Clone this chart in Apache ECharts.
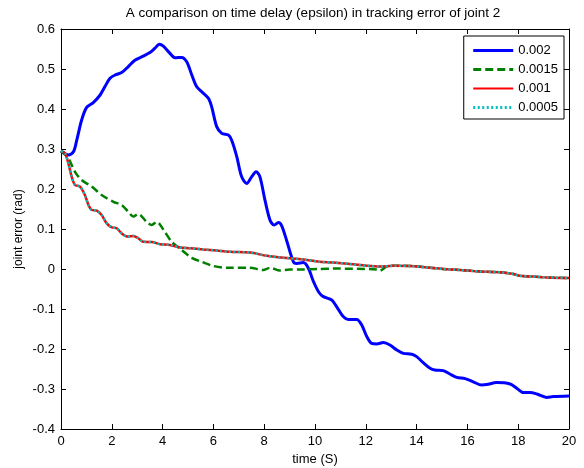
<!DOCTYPE html>
<html><head><meta charset="utf-8">
<script src="https://cdn.jsdelivr.net/npm/echarts@6/dist/echarts.min.js"></script>
<style>html,body{margin:0;padding:0;background:#fff}#c{width:584px;height:468px}</style>
</head><body><div id="c"></div>
<script>
const xTicks = [0,2,4,6,8,10,12,14,16,18,20];
const yTicks = [-0.4,-0.3,-0.2,-0.1,0,0.1,0.2,0.3,0.4,0.5,0.6];
const seriesNames = ['0.002','0.0015','0.001','0.0005'];

const blueX = [0,0.29,0.49,0.62,0.81,1.01,1.27,1.54,1.73,1.93,2.13,2.39,2.65,2.91,3.24,3.5,3.7,3.87,4.03,4.29,4.49,4.75,4.95,5.15,5.34,5.54,5.8,5.93,6.13,6.33,6.59,6.72,6.92,7.11,7.31,7.51,7.68,7.83,8.03,8.23,8.39,8.56,8.69,8.88,9.15,9.28,9.54,9.74,9.93,10.15,10.33,10.66,10.85,11.11,11.31,11.64,11.84,12.04,12.23,12.43,12.69,12.95,13.22,13.48,13.81,14.0,14.26,14.53,14.72,15.05,15.31,15.58,15.91,16.23,16.56,16.76,17.15,17.68,17.94,18.2,18.46,18.73,19.12,19.38,20];
const blueY = [0.295,0.285,0.293,0.322,0.372,0.404,0.416,0.435,0.456,0.477,0.485,0.491,0.506,0.522,0.532,0.541,0.552,0.562,0.557,0.539,0.528,0.529,0.518,0.485,0.456,0.443,0.427,0.406,0.356,0.339,0.335,0.322,0.281,0.231,0.214,0.231,0.243,0.231,0.172,0.122,0.110,0.116,0.108,0.072,0.018,0.014,0.016,0.002,-0.03,-0.058,-0.069,-0.0775,-0.094,-0.119,-0.126,-0.126,-0.14,-0.169,-0.186,-0.1875,-0.184,-0.19,-0.2025,-0.211,-0.213,-0.219,-0.234,-0.248,-0.2525,-0.254,-0.2625,-0.271,-0.274,-0.282,-0.29,-0.289,-0.284,-0.2875,-0.298,-0.309,-0.309,-0.3125,-0.321,-0.319,-0.3175];

const greenX = [0,0.29,0.55,0.81,1.21,1.6,2.06,2.39,2.65,2.85,3.04,3.37,3.57,3.77,4.03,4.36,4.75,5.15,5.54,6.0,6.52,7.44,7.96,8.23,8.62,9.0,9.54,10.17,10.72,12.43,12.56,12.82,13.08,13.74,14.4,15.05,15.71,16.23,16.76,17.28,17.81,18.07,18.6,19.12,20];
const greenY = [0.295,0.277,0.243,0.2225,0.206,0.185,0.168,0.16,0.143,0.131,0.1375,0.118,0.11,0.118,0.0985,0.068,0.0475,0.028,0.018,0.0075,0.003,0.003,-0.0025,0.003,-0.004,-0.001,-0.001,0.0,0.001,-0.001,-0.004,0.006,0.008,0.0075,0.004,0.0,-0.0025,-0.005,-0.007,-0.008,-0.0125,-0.017,-0.019,-0.021,-0.0225];

const redX = [0,0.16,0.29,0.42,0.55,0.75,0.94,1.08,1.21,1.41,1.6,1.8,2.0,2.19,2.39,2.62,2.85,3.04,3.24,3.57,3.9,4.29,4.69,5.08,5.6,6.13,6.65,7.44,8.1,8.75,9.54,10.17,10.72,11.38,12.04,12.56,13.08,13.74,14.4,15.05,15.71,16.23,16.76,17.28,17.81,18.07,18.6,19.12,20];
const redY = [0.295,0.289,0.264,0.231,0.21,0.206,0.185,0.16,0.1475,0.146,0.135,0.114,0.104,0.102,0.089,0.081,0.0825,0.077,0.068,0.0675,0.062,0.06,0.054,0.052,0.049,0.046,0.043,0.041,0.033,0.028,0.024,0.018,0.016,0.0125,0.008,0.006,0.008,0.0075,0.004,0.0,-0.0025,-0.005,-0.007,-0.008,-0.0125,-0.017,-0.019,-0.021,-0.0225];

const cyanX = redX.slice();
const cyanY = redY.slice();

function pairs(xs, ys){ return xs.map((x,i)=>[x, ys[i]]); }

const font = 'Liberation Sans, Arial, Helvetica, sans-serif';
const chart = echarts.init(document.getElementById('c'), null, {renderer:'canvas'});
const axisCommon = {
  axisLine:{show:true, onZero:false, lineStyle:{color:'#000', width:1}},
  axisTick:{show:true, inside:true, length:5, lineStyle:{color:'#000'}},
  splitLine:{show:false}
};
const legendWidths = [3, 3, 2, 3];
chart.setOption({
  animation:false,
  backgroundColor:'#fff',
  title:{text:'A comparison on time delay (epsilon) in tracking error of joint 2', left:308, top:1, textAlign:'center',
    textStyle:{fontFamily:font, fontSize:13.5, fontWeight:'normal', color:'#000'}},
  grid:{left:61, right:15, top:29, bottom:39, show:false, containLabel:false, outerBoundsMode:'none'},
  legend:{
    orient:'vertical', right:20, top:36,
    data:seriesNames.map((n,i)=>({name:n, lineStyle:{width:legendWidths[i]}})),
    backgroundColor:'#fff', borderColor:'#000', borderWidth:1, padding:[8,6,5,8],
    itemWidth:40, itemHeight:15, itemGap:6,
    itemStyle:{opacity:0},
    textStyle:{fontFamily:font, fontSize:13, color:'#000'}
  },
  xAxis:[
    Object.assign({type:'value', min:0, max:20, interval:2, position:'bottom',
      name:'time (S)', nameLocation:'middle', nameGap:22,
      nameTextStyle:{fontFamily:font, fontSize:13, color:'#000'},
      axisLabel:{fontFamily:font, fontSize:13, color:'#000', margin:6}}, axisCommon),
    Object.assign({type:'value', min:0, max:20, interval:2, position:'top', axisLabel:{show:false}}, axisCommon)
  ],
  yAxis:[
    Object.assign({type:'value', min:-0.4, max:0.6, interval:0.1, position:'left',
      name:'joint error (rad)', nameLocation:'middle', nameGap:36, nameMoveOverlap:false,
      nameTextStyle:{fontFamily:font, fontSize:12, color:'#000'},
      axisLabel:{fontFamily:font, fontSize:13, color:'#000', margin:6,
        formatter:v=>{const r=Math.round(v*10)/10; return r===0?'0':String(r);}}}, axisCommon),
    Object.assign({type:'value', min:-0.4, max:0.6, interval:0.1, position:'right', axisLabel:{show:false}}, axisCommon)
  ],
  series:[
    {name:seriesNames[0], type:'line', data:pairs(blueX,blueY), showSymbol:false, symbol:'none', smooth:0.3,
      lineStyle:{color:'#0000ff', width:3}, itemStyle:{color:'#0000ff'}},
    {name:seriesNames[1], type:'line', data:pairs(greenX,greenY), showSymbol:false, symbol:'none', smooth:0.3,
      lineStyle:{color:'#008000', width:2.5, type:[8,4]}, itemStyle:{color:'#008000'}},
    {name:seriesNames[2], type:'line', data:pairs(redX,redY), showSymbol:false, symbol:'none', smooth:0.3,
      lineStyle:{color:'#ff0000', width:2.5}, itemStyle:{color:'#ff0000'}},
    {name:seriesNames[3], type:'line', data:pairs(cyanX,cyanY), showSymbol:false, symbol:'none', smooth:0.3,
      lineStyle:{color:'#00bfbf', width:2.5, type:[2,2.5]}, itemStyle:{color:'#00bfbf'}}
  ]
});
</script></body></html>
